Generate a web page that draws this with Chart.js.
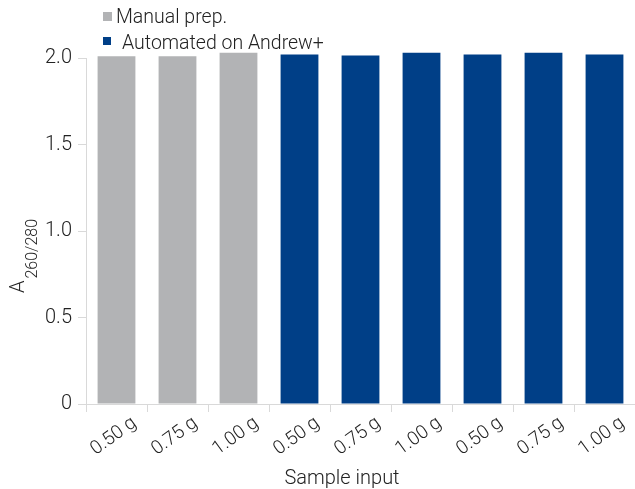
<!DOCTYPE html>
<html>
<head>
<meta charset="utf-8">
<script src="https://cdn.jsdelivr.net/npm/chart.js@4"></script>
<style>
  html, body { margin: 0; padding: 0; background: #fff; overflow: hidden; }
  #wrap { width: 635px; height: 489px; position: relative; }
</style>
</head>
<body>
<div id="wrap"><canvas id="c"></canvas></div>
<script>
const categories = ['0.50 g', '0.75 g', '1.00 g', '0.50 g', '0.75 g', '1.00 g', '0.50 g', '0.75 g', '1.00 g'];
const manualPrep = [2.01, 2.01, 2.03, null, null, null, null, null, null];
const automated = [null, null, null, 2.02, 2.015, 2.03, 2.02, 2.03, 2.02];
const seriesNames = ['Manual prep.', 'Automated on Andrew+'];
const yTickValues = [0, 0.5, 1.0, 1.5, 2.0];
const yTickLabels = ['0', '0.5', '1.0', '1.5', '2.0'];
const xTitle = 'Sample input';
const yTitleMain = 'A';
const yTitleSub = '260/280';

const FONT = 'Roboto, "Liberation Sans", Arial, sans-serif';
const WEIGHT = '300';
const TEXT = '#222222';
const AXIS = '#d9d9d9';
const GRAY = '#b2b3b5';
const BLUE = '#003f87';

const extrasPlugin = {
  id: 'extras',
  afterDraw(chart) {
    const ctx = chart.ctx;
    ctx.save();
    const ds = chart.data.datasets;
    const items = [
      { sq: [103, 12, 9, 9], tx: 116, ty: 23 },
      { sq: [103, 37, 8, 8], tx: 122, ty: 49 }
    ];
    ds.forEach((d, i) => {
      const it = items[i];
      ctx.fillStyle = d.backgroundColor;
      ctx.fillRect(it.sq[0], it.sq[1], it.sq[2], it.sq[3]);
      ctx.fillStyle = TEXT;
      ctx.font = WEIGHT + ' 19.5px ' + FONT;
      ctx.textAlign = 'left';
      ctx.textBaseline = 'alphabetic';
      ctx.fillText(d.label, it.tx, it.ty);
    });
    ctx.fillStyle = TEXT;
    ctx.font = WEIGHT + ' 20px ' + FONT;
    ctx.textAlign = 'center';
    ctx.fillText(xTitle, 342, 484);
    ctx.translate(24, 293);
    ctx.rotate(-Math.PI / 2);
    ctx.textAlign = 'left';
    ctx.font = WEIGHT + ' 20px ' + FONT;
    ctx.fillText(yTitleMain, 0, 0);
    const w = ctx.measureText(yTitleMain).width;
    ctx.font = WEIGHT + ' 16px ' + FONT;
    ctx.fillText(yTitleSub, w + 2, 13);
    ctx.restore();
  }
};

new Chart(document.getElementById('c'), {
  type: 'bar',
  data: {
    labels: categories,
    datasets: [
      { label: seriesNames[0], data: manualPrep, backgroundColor: GRAY, borderWidth: 0, clip: false },
      { label: seriesNames[1], data: automated, backgroundColor: BLUE, borderWidth: 0, clip: false }
    ]
  },
  options: {
    responsive: true,
    maintainAspectRatio: false,
    animation: false,
    devicePixelRatio: 1,
    layout: { padding: { top: 58, left: 0, right: 0, bottom: 0 } },
    datasets: { bar: { grouped: false, barPercentage: 0.62, categoryPercentage: 1.0 } },
    plugins: { legend: { display: false }, tooltip: { enabled: false } },
    scales: {
      x: {
        grid: { display: true, drawOnChartArea: false, offset: true, color: AXIS, tickLength: 8 },
        border: { color: AXIS, width: 1 },
        ticks: {
          color: TEXT, font: { family: FONT, size: 19, weight: WEIGHT },
          minRotation: 36, maxRotation: 36, autoSkip: false, padding: 0, labelOffset: 18
        },
        afterFit(scale) { scale.height = 85; }
      },
      y: {
        min: 0, max: 2.0,
        afterBuildTicks(scale) { scale.ticks = yTickValues.map(v => ({ value: v })); },
        grid: { display: true, drawOnChartArea: false, color: AXIS, tickLength: 8 },
        border: { color: AXIS, width: 1 },
        ticks: {
          color: TEXT, font: { family: FONT, size: 20, weight: WEIGHT }, padding: 6,
          callback(value, index) { return yTickLabels[index]; }
        },
        afterFit(scale) { scale.width = 86; }
      }
    }
  },
  plugins: [extrasPlugin]
});
</script>
</body>
</html>
